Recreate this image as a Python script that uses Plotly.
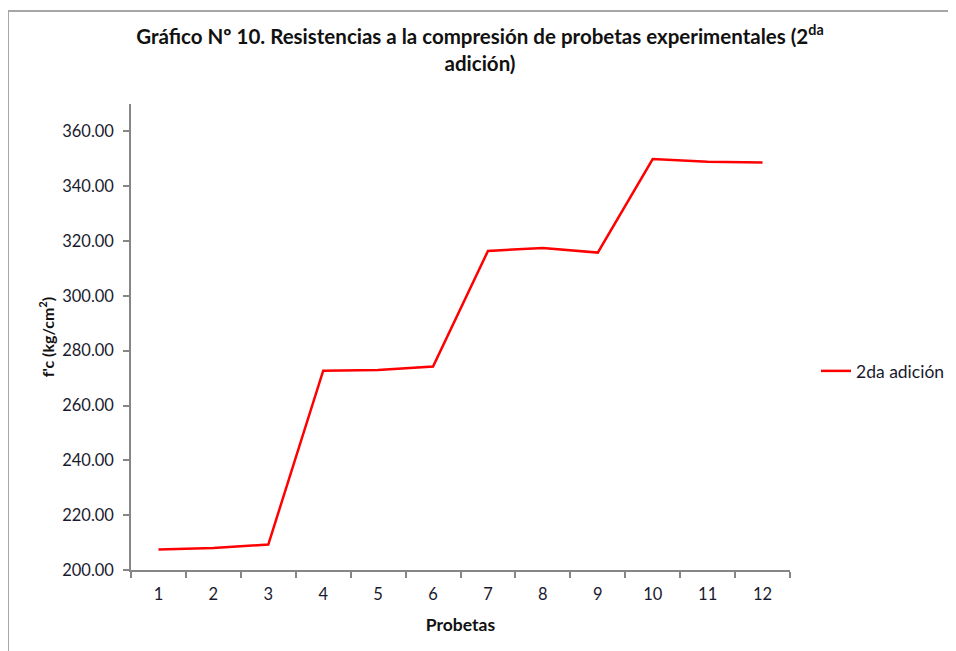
import plotly.graph_objects as go

categories = ["1", "2", "3", "4", "5", "6", "7", "8", "9", "10", "11", "12"]
values = [207.5, 208.0, 209.3, 272.7, 273.0, 274.2, 316.4, 317.5, 315.8, 349.9, 348.9, 348.7]
series_name = "2da adición"

# page has an 8px body margin, so figure pixel = page pixel - 8
OFF = 8
W, H = 956 - OFF, 651 - OFF
L, R, T, B = 131 - OFF, 956 - 790, 104 - OFF, 651 - 570
pw, ph = W - L - R, H - T - B

def px_x(p):  # page pixel -> paper x
    return (p - OFF - L) / pw

def px_y(p):  # page pixel -> paper y
    return (H - B - (p - OFF)) / ph

FONT = "Lato"
TXT = "#1a1a2e"

fig = go.Figure()
fig.add_trace(go.Scatter(
    x=categories, y=values, mode="lines", name=series_name,
    line=dict(color="#FF0000", width=2.5),
))

fig.update_layout(
    width=W, height=H,
    margin=dict(l=L, r=R, t=T, b=B, autoexpand=False),
    paper_bgcolor="white", plot_bgcolor="white",
    font=dict(family=FONT, color=TXT, size=16),
    title=dict(
        text="<b>Gráfico Nº 10. Resistencias a la compresión de probetas experimentales (2<sup>da</sup><br>adición)</b>",
        x=(480 - OFF) / W, xanchor="center", xref="container",
        y=1 - (44 - OFF) / H, yanchor="middle",
        font=dict(family=FONT, size=20.5, color="#111111"),
    ),
    showlegend=True,
    legend=dict(
        x=px_x(816), xanchor="left", y=px_y(371), yanchor="middle",
        font=dict(family=FONT, size=17.5, color=TXT),
        bgcolor="rgba(0,0,0,0)",
    ),
    xaxis=dict(
        type="category", tickson="boundaries", range=[-0.5, 11.5],
        showline=True, linecolor="#868686", linewidth=1.5,
        ticks="outside", ticklen=6, tickcolor="#868686", tickwidth=1.5,
        showgrid=False, zeroline=False, automargin=False,
        ticklabelstandoff=8,
        tickfont=dict(family=FONT, size=16.5, color=TXT),
        title=dict(text="<b>Probetas</b>", font=dict(family=FONT, size=17.5, color="#111111"), standoff=16),
    ),
    yaxis=dict(
        range=[200, 370], dtick=20, tick0=200, tickformat=".2f",
        showline=True, linecolor="#868686", linewidth=1.5,
        ticks="outside", ticklen=6, tickcolor="#868686", tickwidth=1.5,
        showgrid=False, zeroline=False, automargin=False,
        ticklabelstandoff=6,
        tickfont=dict(family=FONT, size=16.5, color=TXT),
        title=dict(text="<b>f'c (kg/cm<sup>2</sup>)</b>", font=dict(family=FONT, size=16, color="#111111"), standoff=4),
    ),
)

# chart frame (only top and left edges are visible in the reference)
fig.add_shape(type="line", xref="paper", yref="paper",
              x0=px_x(8), y0=px_y(11), x1=px_x(980), y1=px_y(11),
              line=dict(color="#A6A6A6", width=2))
fig.add_shape(type="line", xref="paper", yref="paper",
              x0=px_x(8), y0=px_y(11), x1=px_x(8), y1=px_y(680),
              line=dict(color="#A6A6A6", width=2))

fig.write_html("out.html")
